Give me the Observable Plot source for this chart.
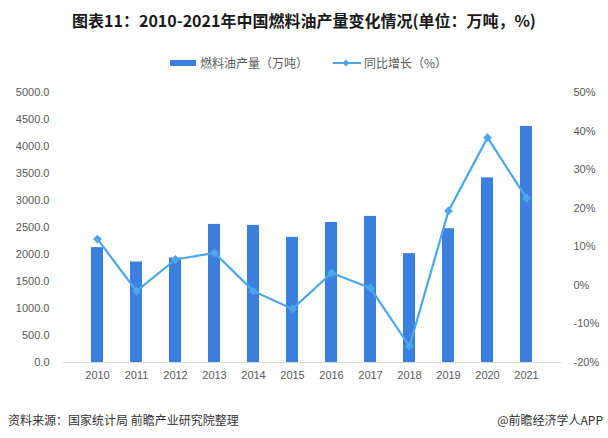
<!DOCTYPE html>
<html>
<head>
<meta charset="utf-8">
<script src="https://cdn.jsdelivr.net/npm/d3@7"></script>
<script src="https://cdn.jsdelivr.net/npm/@observablehq/plot@0.6"></script>
<style>
  html, body { margin: 0; padding: 0; background: #fff; }
  body { width: 608px; height: 438px; position: relative; overflow: hidden; font-family: "Noto Sans CJK SC", "Noto Sans", sans-serif; }
  #title { position: absolute; top: 8px; left: 0; width: 608px; text-align: center; font-size: 16px; font-weight: bold; color: #1a1a1a; line-height: 24px; }
  #legend { position: absolute; top: 54px; left: 0; width: 608px; height: 18px; font-size: 12px; color: #595959; }
  .lg { position: absolute; top: 0; line-height: 18px; white-space: nowrap; }
  #chart { position: absolute; top: 80px; left: 0; }
  #src { position: absolute; top: 411px; left: 8px; font-size: 12px; color: #333; line-height: 18px; }
  #brand { position: absolute; top: 411px; right: 5px; font-size: 12px; color: #333; line-height: 18px; }
</style>
</head>
<body>
<div id="title">图表11：2010-2021年中国燃料油产量变化情况(单位：万吨，%)</div>
<div id="legend">
  <svg class="lg" style="left:170px;top:6px" width="26" height="6"><rect width="26" height="6" fill="#3b7fdf"></rect></svg>
  <span class="lg" style="left:200px">燃料油产量（万吨）</span>
  <svg class="lg" style="left:333px;top:4px" width="28" height="10"><line x1="0" y1="5" x2="28" y2="5" stroke="#4ba6ea" stroke-width="2"></line><path d="M13,1.5L16.5,5L13,8.5L9.5,5Z" fill="#4ba6ea"></path></svg>
  <span class="lg" style="left:364px">同比增长（%）</span>
</div>
<div id="chart"></div>
<div id="src">资料来源：国家统计局 前瞻产业研究院整理</div>
<div id="brand">@前瞻经济学人APP</div>
<script>
const years = ["2010","2011","2012","2013","2014","2015","2016","2017","2018","2019","2020","2021"];
const output = [2127, 1861, 1935, 2557, 2539, 2317, 2594, 2705, 2016, 2478, 3419, 4372];
const growth = [12.0, -1.5, 6.7, 8.4, -1.5, -6.1, 3.2, -0.7, -15.8, 19.3, 38.3, 22.6];
const leftTicks = [0, 500, 1000, 1500, 2000, 2500, 3000, 3500, 4000, 4500, 5000];
const rightTicks = [-20, -10, 0, 10, 20, 30, 40, 50];

const yMax = 5000;
const pMin = -20, pMax = 50;
const toY = p => (p - pMin) / (pMax - pMin) * yMax;
const fromY = v => v / yMax * (pMax - pMin) + pMin;

const bars = years.map((y, i) => ({year: y, value: output[i]}));
const line = years.map((y, i) => ({year: y, g: toY(growth[i])}));

const chart = Plot.plot({
  width: 608,
  height: 310,
  marginTop: 12,
  marginBottom: 28,
  marginLeft: 63,
  marginRight: 47,
  style: {fontFamily: "'Liberation Sans', 'Noto Sans', sans-serif", fontSize: "11px", color: "#595959", background: "transparent"},
  x: {domain: years, padding: 0.69, label: null},
  y: {domain: [0, yMax], label: null},
  marks: [
    Plot.barY(bars, {x: "year", y: "value", fill: "#3b7fdf"}),
    Plot.ruleY([0], {stroke: "#d9d9d9", strokeWidth: 1}),
    Plot.axisX({tickSize: 0, tickPadding: 9, label: null, fill: "#595959"}),
    Plot.axisY({ticks: leftTicks, tickSize: 0, tickPadding: 14, tickFormat: d => d.toFixed(1), label: null, fill: "#595959"}),
    Plot.axisY({anchor: "right", ticks: rightTicks.map(toY), tickSize: 0, tickPadding: 12, tickFormat: d => Math.round(fromY(d)) + "%", label: null, fill: "#595959"}),
    Plot.line(line, {x: "year", y: "g", stroke: "#4ba6ea", strokeWidth: 2.2}),
    Plot.dot(line, {x: "year", y: "g", symbol: "diamond2", r: 4, fill: "#4ba6ea", stroke: "none"})
  ]
});
document.getElementById("chart").appendChild(chart);
</script>
</body>
</html>
